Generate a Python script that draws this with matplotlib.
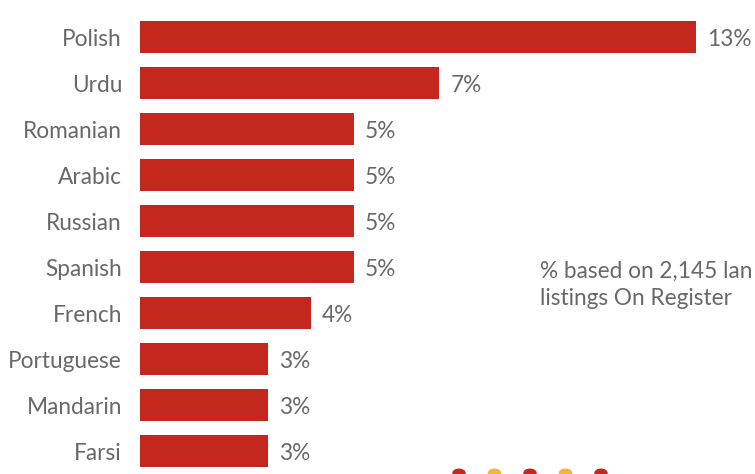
import matplotlib.pyplot as plt
from matplotlib.patches import Circle

languages = ['Polish', 'Urdu', 'Romanian', 'Arabic', 'Russian',
             'Spanish', 'French', 'Portuguese', 'Mandarin', 'Farsi']
shares = [13, 7, 5, 5, 5, 5, 4, 3, 3, 3]
dot_colors = ['#c4271d', '#ecb935', '#c4271d', '#ecb935', '#c4271d']
note = '% based on 2,145 lan\nlistings On Register'

red = '#c4271d'
grey = '#686868'
plt.rcParams['font.family'] = ['Lato', 'DejaVu Sans']

fig = plt.figure(figsize=(7.55, 4.74), dpi=100)
# axes start where the bars start, run to the right edge
ax = fig.add_axes([140 / 755, 0, 615 / 755, 1])
px_per_unit = 556 / 13
ax.set_xlim(0, 615 / px_per_unit)
ax.set_ylim((474 - 37) / 46, -37 / 46)
ax.axis('off')

ypos = list(range(len(languages)))
ax.barh(ypos, shares, height=0.70, color=red)

for y, name, v in zip(ypos, languages, shares):
    ax.annotate(name, (0, y), xytext=(-18, -2), textcoords='offset pixels',
                ha='right', va='center', fontsize=16.3, color=grey)
    ax.annotate(f'{v}%', (v, y), xytext=(11, -2), textcoords='offset pixels',
                ha='left', va='center', fontsize=16.3, color=grey)

fig.text(540 / 755, 1 - 285 / 474, note,
         ha='left', va='center', fontsize=16.3, color=grey, linespacing=1.4)

# row of dots along the bottom edge
for i, c in enumerate(dot_colors):
    fig.patches.append(Circle(((459 + 35.5 * i) / 755, 1 - 473 / 474), 6 / 755,
                              transform=fig.transFigure, color=c))

fig.savefig('out.png', dpi=100)
